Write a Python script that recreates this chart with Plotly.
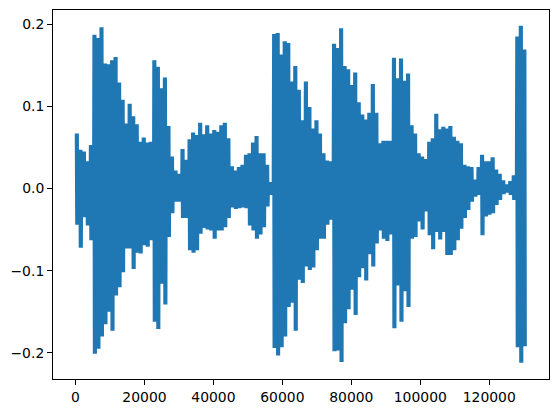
import plotly.graph_objects as go

# envelope of the waveform, one pair per STEP samples
STEP = 1022
SWINGS = 4
upper = [
    0.067, 0.047, 0.045, 0.033, 0.053, 0.187, 0.183, 0.196, 0.152, 0.151,
    0.156, 0.160, 0.129, 0.108, 0.079, 0.103, 0.088, 0.078, 0.057, 0.062,
    0.056, 0.057, 0.156, 0.148, 0.122, 0.135, 0.076, 0.039, 0.022, 0.018,
    0.048, 0.035, 0.060, 0.068, 0.065, 0.080, 0.066, 0.077, 0.067, 0.071,
    0.069, 0.077, 0.080, 0.061, 0.027, 0.022, 0.026, 0.029, 0.041, 0.043,
    0.056, 0.064, 0.043, 0.043, 0.029, 0.008, 0.188, 0.189, 0.163, 0.179,
    0.177, 0.130, 0.149, 0.120, 0.083, 0.130, 0.099, 0.073, 0.083, 0.067,
    0.043, 0.034, 0.033, 0.176, 0.171, 0.195, 0.149, 0.145, 0.126, 0.141,
    0.105, 0.090, 0.084, 0.092, 0.127, 0.092, 0.055, 0.058, 0.058, 0.058,
    0.159, 0.134, 0.158, 0.131, 0.140, 0.077, 0.067, 0.043, 0.039, 0.036,
    0.057, 0.061, 0.091, 0.072, 0.075, 0.073, 0.076, 0.063, 0.058, 0.055,
    0.029, 0.027, 0.026, 0.011, 0.026, 0.041, 0.033, 0.033, 0.038, 0.023,
    0.018, 0.010, 0.005, 0.009, 0.016, 0.185, 0.198, 0.169,
]
lower = [
    -0.044, -0.072, -0.035, -0.045, -0.063, -0.201, -0.195, -0.180, -0.165, -0.150,
    -0.173, -0.130, -0.120, -0.102, -0.073, -0.073, -0.098, -0.078, -0.079, -0.069,
    -0.071, -0.063, -0.162, -0.171, -0.116, -0.141, -0.059, -0.030, -0.016, -0.016,
    -0.036, -0.036, -0.075, -0.078, -0.075, -0.055, -0.048, -0.050, -0.051, -0.061,
    -0.051, -0.051, -0.047, -0.036, -0.023, -0.025, -0.024, -0.023, -0.024, -0.045,
    -0.051, -0.061, -0.056, -0.047, -0.022, -0.008, -0.194, -0.203, -0.193, -0.180,
    -0.144, -0.139, -0.173, -0.111, -0.115, -0.095, -0.099, -0.096, -0.075, -0.061,
    -0.061, -0.044, -0.038, -0.198, -0.197, -0.211, -0.164, -0.147, -0.123, -0.154,
    -0.108, -0.097, -0.112, -0.080, -0.095, -0.067, -0.051, -0.061, -0.064, -0.056,
    -0.170, -0.118, -0.162, -0.125, -0.144, -0.061, -0.059, -0.040, -0.050, -0.028,
    -0.057, -0.074, -0.053, -0.062, -0.053, -0.081, -0.081, -0.075, -0.063, -0.049,
    -0.036, -0.026, -0.016, -0.010, -0.008, -0.057, -0.034, -0.032, -0.030, -0.020,
    -0.014, -0.007, -0.005, -0.008, -0.014, -0.193, -0.212, -0.192,
]
x_ticks = [0, 20000, 40000, 60000, 80000, 100000, 120000]
y_ticks = [-0.2, -0.1, 0.0, 0.1, 0.2]

# swing between the two envelopes so the line fills in like a dense signal
xs, ys = [], []
for k, (hi, lo) in enumerate(zip(upper, lower)):
    for s in range(SWINGS):
        xs += [(k + s / SWINGS) * STEP, (k + (s + 0.5) / SWINGS) * STEP]
        ys += [hi, lo]

fig = go.Figure(go.Scatter(
    x=xs, y=ys, mode="lines",
    line=dict(color="#1f77b4", width=1.5, simplify=False),
))

axis_style = dict(
    showgrid=False, zeroline=False, showline=True, mirror=True,
    linecolor="black", linewidth=1, ticks="outside", ticklen=5,
    tickwidth=1, tickcolor="black",
)
fig.update_xaxes(
    range=[-6526, 137326], tickvals=x_ticks,
    ticktext=[str(t) for t in x_ticks], **axis_style,
)
fig.update_yaxes(
    range=[-0.2317, 0.2171], tickvals=y_ticks,
    ticktext=["\u22120.2", "\u22120.1", "0.0", "0.1", "0.2"], **axis_style,
)
# the page adds an 8px body margin, so the figure is a little smaller than the window
fig.update_layout(
    width=551, height=405, autosize=False, showlegend=False,
    margin=dict(l=45, r=10, t=2, b=34),
    paper_bgcolor="white", plot_bgcolor="white",
    font=dict(family="DejaVu Sans", size=13.9, color="black"),
)
fig.write_html("out.html", config={"displayModeBar": False})
